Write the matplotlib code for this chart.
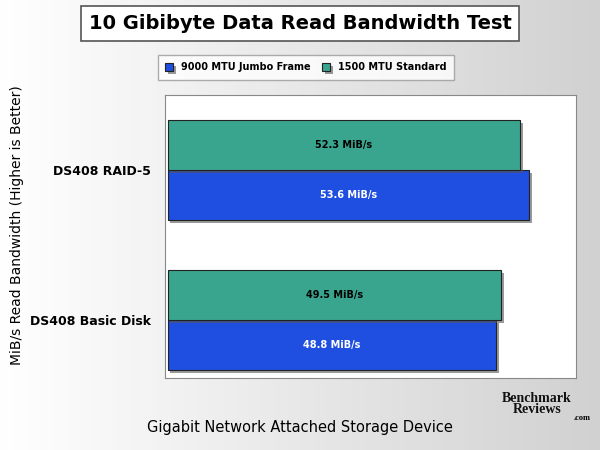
import matplotlib
matplotlib.use("Agg")
import matplotlib.pyplot as plt
import matplotlib.patheffects as pe
import numpy as np

categories = ["DS408 Basic Disk", "DS408 RAID-5"]
series_names = ["9000 MTU Jumbo Frame", "1500 MTU Standard"]
jumbo = [48.8, 53.6]
standard = [49.5, 52.3]
colors = ["#1f4fe0", "#3aa58f"]

fig = plt.figure(figsize=(6, 4.5), dpi=100)
bg = fig.add_axes([0, 0, 1, 1], zorder=-10)
grad = np.linspace(1, 0.82, 256).reshape(1, -1)
bg.imshow(np.dstack([grad, grad, grad]), aspect="auto", extent=[0, 1, 0, 1])
bg.axis("off")

ax = fig.add_axes([0.275, 1 - 378 / 450, 0.685, (378 - 95) / 450])
ax.set_facecolor("white")
y = np.arange(len(categories))
h = 0.333
sh = [pe.withSimplePatchShadow(offset=(2, -2), shadow_rgbFace="#555555", alpha=0.6)]
b1 = ax.barh(y - h / 2, jumbo, height=h, color=colors[0], edgecolor="#222222", lw=0.8, path_effects=sh)
b2 = ax.barh(y + h / 2, standard, height=h, color=colors[1], edgecolor="#222222", lw=0.8, path_effects=sh)
for bars, vals, tc in [(b1, jumbo, "white"), (b2, standard, "black")]:
    for b, v in zip(bars, vals):
        ax.text(v / 2, b.get_y() + b.get_height() / 2, f"{v} MiB/s", ha="center", va="center",
                fontsize=7, fontweight="bold", color=tc)
ax.set_xlim(-0.4, 60.6)
ax.set_ylim(-0.387, 1.5)
ax.set_xticks([])
ax.set_yticks(y)
ax.set_yticklabels(categories, fontsize=9, fontweight="bold")
ax.tick_params(axis="y", length=0, pad=10)
for s in ax.spines.values():
    s.set_color("#888888")

fig.text(0.028, 0.5, "MiB/s Read Bandwidth (Higher is Better)", rotation=90, ha="center", va="center", fontsize=10)
fig.text(0.5, 0.05, "Gigabit Network Attached Storage Device", ha="center", va="center", fontsize=10.5)
fig.text(0.5, 0.948, "10 Gibibyte Data Read Bandwidth Test", ha="center", va="center", fontsize=14, fontweight="bold",
         bbox=dict(boxstyle="square,pad=0.4", fc="white", ec="#555555", lw=1.2))
fig.legend([b1, b2], series_names, loc="center", bbox_to_anchor=(0.51, 0.85), ncol=2,
           prop={"weight": "bold", "size": 7}, frameon=True, fancybox=False, edgecolor="#999999",
           handlelength=0.8, handleheight=0.8, columnspacing=1.2, borderpad=0.8)
fig.text(0.895, 0.102, "Benchmark\nReviews", ha="center", va="center", fontsize=10, fontweight="bold",
         family="Liberation Serif", color="#111111", linespacing=0.85)
fig.text(0.97, 0.07, ".com", ha="center", va="center", fontsize=6, fontweight="bold", family="Liberation Serif")
fig.savefig("out.png", dpi=100)
